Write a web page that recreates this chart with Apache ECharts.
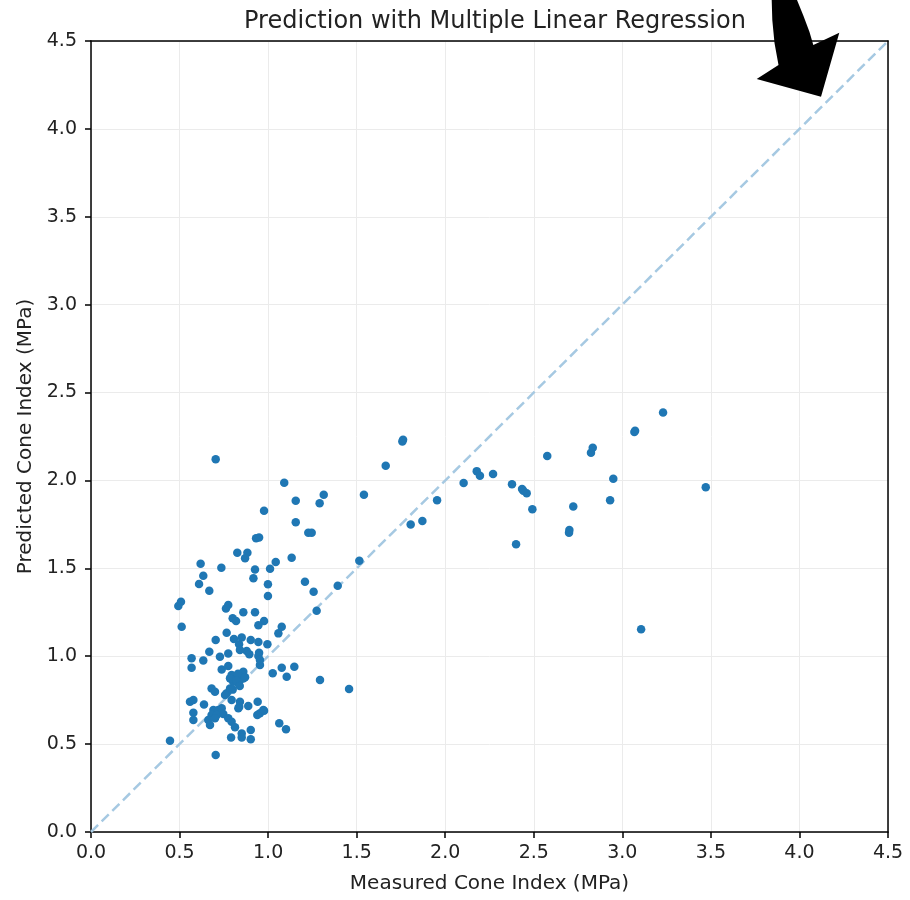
<!DOCTYPE html>
<html>
<head>
<meta charset="utf-8">
<script src="https://cdn.jsdelivr.net/npm/echarts@6/dist/echarts.min.js"></script>
<style>html,body{margin:0;padding:0;background:#fff}#c{width:910px;height:900px}</style>
</head>
<body>
<div id="c"></div>
<script>
const titleText = "Prediction with Multiple Linear Regression";
const xLabel = "Measured Cone Index (MPa)";
const yLabel = "Predicted Cone Index (MPa)";
const axisTicks = [0, 0.5, 1.0, 1.5, 2.0, 2.5, 3.0, 3.5, 4.0, 4.5];
const idealLine = [[0, 0], [4.5, 4.5]];
const measured = [
 0.704,1.091,1.156,0.977,1.314,1.291,1.541,1.156,1.227,1.246,
 0.932,0.949,0.826,0.883,0.870,0.619,0.736,1.043,1.133,1.515,
 0.926,1.011,0.917,0.634,0.610,0.668,0.999,0.999,1.208,1.257,
 1.274,1.393,0.508,0.493,0.512,0.775,0.762,0.860,0.926,0.800,
 0.819,0.977,0.945,1.077,1.058,0.766,0.704,0.807,0.851,0.836,
 0.902,0.945,0.996,0.668,0.879,0.894,0.949,0.728,0.775,0.568,
 0.634,0.568,0.738,0.775,0.841,0.945,0.954,0.954,1.026,1.077,
 1.105,1.148,1.293,1.457,0.860,0.794,0.813,0.841,0.803,0.832,
 0.860,0.785,0.681,0.700,0.766,0.785,0.794,0.841,0.888,0.941,
 0.837,0.559,0.578,0.638,0.578,0.578,0.691,0.719,0.738,0.681,
 0.710,0.747,0.662,0.700,0.672,0.775,0.794,0.813,0.973,0.954,
 0.902,0.902,0.851,0.851,0.791,1.063,1.101,0.446,0.704,
 0.830,0.870,0.820,0.840,0.800,0.757,0.977,0.939,0.832,
 1.664,1.762,1.758,1.805,1.871,1.954,2.104,2.178,2.196,2.270,
 2.377,2.434,2.460,2.441,2.492,2.400,2.576,2.701,2.699,2.723,
 2.823,2.833,2.931,2.949,3.072,3.068,3.230,3.106,3.471
];
const predicted = [
 2.120,1.987,1.885,1.828,1.919,1.870,1.919,1.762,1.703,1.703,
 1.671,1.676,1.589,1.589,1.557,1.526,1.503,1.536,1.560,1.543,
 1.494,1.498,1.443,1.458,1.411,1.373,1.409,1.342,1.424,1.367,
 1.259,1.401,1.310,1.286,1.168,1.291,1.272,1.250,1.250,1.216,
 1.200,1.200,1.176,1.168,1.130,1.134,1.092,1.098,1.107,1.068,
 1.092,1.081,1.068,1.026,1.030,1.011,1.020,0.997,1.016,0.988,
 0.975,0.935,0.925,0.944,1.035,1.001,0.950,0.978,0.903,0.935,
 0.883,0.940,0.865,0.813,0.912,0.893,0.883,0.864,0.855,0.846,
 0.874,0.874,0.817,0.798,0.789,0.817,0.751,0.741,0.717,0.741,
 0.713,0.741,0.751,0.726,0.679,0.637,0.694,0.694,0.704,0.666,
 0.666,0.671,0.637,0.647,0.609,0.647,0.627,0.596,0.694,0.675,
 0.580,0.527,0.561,0.538,0.538,0.618,0.584,0.519,0.438,
 0.900,0.880,0.860,0.830,0.810,0.779,0.690,0.666,0.704,
 2.084,2.231,2.222,1.750,1.769,1.887,1.985,2.053,2.027,2.036,
 1.978,1.951,1.927,1.941,1.836,1.637,2.139,1.718,1.703,1.852,
 2.158,2.186,1.887,2.010,2.283,2.275,2.387,1.153,1.961
];
const points = measured.map((x, i) => [x, predicted[i]]);

const FONT = "DejaVu Sans";
const chart = echarts.init(document.getElementById('c'), null, {renderer: 'canvas'});
const axisCommon = {
  type: 'value', min: 0, max: 4.5, interval: 0.5,
  nameLocation: 'middle',
  nameTextStyle: {fontFamily: FONT, fontSize: 20, color: '#222'},
  axisLine: {show: true, onZero: false, lineStyle: {color: '#000', width: 1.5}},
  axisTick: {show: true, length: 6, inside: false, lineStyle: {color: '#000', width: 1.5}},
  axisLabel: {fontFamily: FONT, fontSize: 19, color: '#222', formatter: v => v.toFixed(1)},
  splitLine: {show: true, lineStyle: {color: '#ebebeb', width: 1}}
};
const borderAxis = {
  type: 'value', min: 0, max: 4.5, interval: 0.5,
  axisLine: {show: true, onZero: false, lineStyle: {color: '#000', width: 1.5}},
  axisTick: {show: false}, axisLabel: {show: false}, splitLine: {show: false}
};
chart.setOption({
  animation: false,
  backgroundColor: '#fff',
  title: {text: titleText, left: 490, top: 5, textAlign: 'center',
    textStyle: {fontFamily: FONT, fontSize: 24, fontWeight: 'normal', color: '#222'}},
  grid: {left: 91, right: 22, top: 41, bottom: 68, show: false},
  xAxis: [
    Object.assign({}, axisCommon, {name: xLabel, nameGap: 42, position: 'bottom', axisLabel: Object.assign({}, axisCommon.axisLabel, {margin: 12})}),
    Object.assign({}, borderAxis, {position: 'top'})
  ],
  yAxis: [
    Object.assign({}, axisCommon, {name: yLabel, nameGap: 53, position: 'left', axisLabel: Object.assign({}, axisCommon.axisLabel, {margin: 14})}),
    Object.assign({}, borderAxis, {position: 'right'})
  ],
  series: [
    {type: 'line', data: idealLine, symbol: 'none', silent: true, z: 1,
     lineStyle: {color: '#a6c9e2', width: 2.5, type: [10, 5]}},
    {type: 'scatter', data: points, symbol: 'circle', symbolSize: 8.5, z: 2,
     itemStyle: {color: '#1f77b4', opacity: 1}}
  ],
  graphic: [{
    type: 'polygon', z: 100,
    shape: {points: [[771.7,0],[772.3,20],[774.5,43],[778.5,65],[756.7,79],[821,96.7],[839.3,32.7],[813.3,45],[809.5,32],[803.5,16],[797,0]]},
    style: {fill: '#000'}
  }]
});
</script>
</body>
</html>
